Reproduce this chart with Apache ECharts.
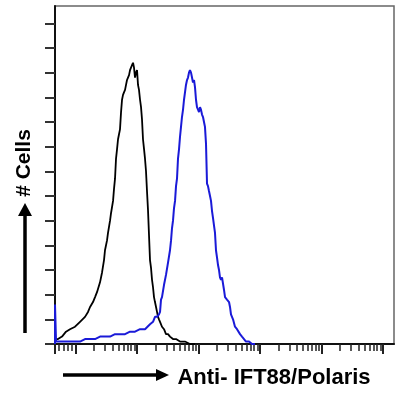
<!DOCTYPE html>
<html>
<head>
<meta charset="utf-8">
<script src="https://cdn.jsdelivr.net/npm/echarts@6/dist/echarts.min.js"></script>
<style>html,body{margin:0;padding:0;background:#fff}#c{width:400px;height:398px}</style>
</head>
<body>
<div id="c"></div>
<script>
// x: display position in decades of fluorescence (biexponential-like axis), y: cell count
const isotypeData = [[-0.337,2],[-0.288,2],[-0.223,3],[-0.158,5],[-0.093,6],[-0.011,7],[0.070,9],[0.151,11],[0.200,13],[0.233,15],[0.281,17],[0.314,19],[0.346,21],[0.395,25],[0.428,29],[0.460,34],[0.476,38],[0.509,42],[0.525,45],[0.558,50],[0.574,53],[0.607,58],[0.623,63],[0.639,67],[0.655,75],[0.672,79],[0.688,83],[0.704,85],[0.720,87],[0.737,94],[0.753,99],[0.769,101],[0.785,102],[0.802,103],[0.818,105],[0.834,107],[0.850,108],[0.867,109],[0.883,111],[0.899,112],[0.915,113],[0.932,114],[0.948,112],[0.964,108],[0.980,110],[0.997,111],[1.013,105],[1.029,103],[1.046,99],[1.062,96],[1.078,91],[1.094,83],[1.111,79],[1.127,75],[1.143,70],[1.159,62],[1.176,54],[1.192,44],[1.208,34],[1.224,31],[1.241,26],[1.257,23],[1.273,19],[1.289,17],[1.306,15],[1.322,13],[1.338,11],[1.354,10],[1.371,9],[1.403,7],[1.436,6],[1.468,4],[1.501,4],[1.533,3],[1.582,2],[1.631,2],[1.696,1],[1.776,1],[1.858,0],[1.939,0]];
const antibodyData = [[-0.337,0],[-0.337,16],[-0.320,1],[-0.288,1],[-0.223,1],[-0.158,1],[-0.093,1],[-0.011,1],[0.070,1],[0.151,2],[0.233,2],[0.314,2],[0.395,3],[0.476,3],[0.558,3],[0.639,4],[0.720,4],[0.802,4],[0.883,5],[0.964,5],[1.046,6],[1.127,6],[1.208,8],[1.257,9],[1.289,11],[1.322,11],[1.354,12],[1.371,13],[1.387,18],[1.403,19],[1.436,24],[1.468,28],[1.501,33],[1.533,38],[1.550,42],[1.566,47],[1.582,50],[1.598,55],[1.615,58],[1.631,64],[1.647,67],[1.663,75],[1.680,79],[1.696,84],[1.712,88],[1.728,92],[1.745,95],[1.761,99],[1.777,102],[1.793,105],[1.810,107],[1.826,108],[1.842,110],[1.858,111],[1.875,110],[1.891,108],[1.907,106],[1.924,107],[1.940,104],[1.956,99],[1.972,96],[1.989,95],[2.005,94],[2.021,96],[2.037,95],[2.054,93],[2.070,92],[2.086,90],[2.102,88],[2.119,81],[2.135,65],[2.151,64],[2.167,62],[2.184,60],[2.200,58],[2.216,54],[2.233,51],[2.249,48],[2.265,45],[2.281,38],[2.298,35],[2.314,32],[2.330,30],[2.346,27],[2.363,26],[2.379,27],[2.395,27],[2.411,22],[2.428,19],[2.460,18],[2.493,17],[2.509,15],[2.525,12],[2.558,10],[2.590,7],[2.623,6],[2.639,6],[2.672,4],[2.704,3],[2.737,2],[2.769,1],[2.818,1],[2.867,0],[2.916,0]];

const xMin = -0.337, xMax = 5.176;
const yMin = 0, yMax = 137;
const xMajorTicks = [-0.337, 0, 1, 2, 3, 4, 5];
const xLinearMinorTicks = [-0.269, -0.202, -0.135, -0.067];
const decades = [0, 1, 2, 3, 4];
const logMinorOffsets = [0.301, 0.477, 0.602, 0.699, 0.778, 0.845, 0.903, 0.954];
const yTicks = [0, 10, 20, 30, 40, 50, 60, 70, 80, 90, 100, 110, 120, 130];

const xMinorTicks = xLinearMinorTicks.slice();
decades.forEach(d => logMinorOffsets.forEach(o => xMinorTicks.push(+(d + o).toFixed(3))));

const chart = echarts.init(document.getElementById('c'), null, {renderer: 'canvas'});
chart.setOption({
  animation: false,
  backgroundColor: '#fff',
  grid: {left: 55, right: 6, top: 6, bottom: 54, containLabel: false, outerBoundsMode: 'none',
         show: true, borderColor: '#666', borderWidth: 1.5, backgroundColor: 'transparent'},
  xAxis: [
    {type: 'value', min: xMin, max: xMax, position: 'bottom',
     axisLine: {show: true, onZero: false, lineStyle: {color: '#111', width: 2}},
     axisTick: {show: true, customValues: xMajorTicks, length: 10, lineStyle: {color: '#222', width: 2}},
     axisLabel: {show: false}, splitLine: {show: false}},
    {type: 'value', min: xMin, max: xMax, position: 'bottom',
     axisLine: {show: false},
     axisTick: {show: true, customValues: xMinorTicks, length: 7, lineStyle: {color: '#222', width: 1.5}},
     axisLabel: {show: false}, splitLine: {show: false}}
  ],
  yAxis: {type: 'value', min: yMin, max: yMax,
     axisLine: {show: true, onZero: false, lineStyle: {color: '#111', width: 2}},
     axisTick: {show: true, customValues: yTicks, length: 10, lineStyle: {color: '#333', width: 2}},
     axisLabel: {show: false}, splitLine: {show: false}},
  series: [
    {type: 'line', name: 'Isotype', xAxisIndex: 0, data: isotypeData, showSymbol: false, symbol: 'none',
     lineStyle: {color: '#000', width: 1.8}, z: 3},
    {type: 'line', name: 'Anti-IFT88', xAxisIndex: 0, data: antibodyData, showSymbol: false, symbol: 'none',
     lineStyle: {color: '#1a1ad8', width: 2}, z: 4}
  ],
  graphic: [
    {type: 'line', shape: {x1: 25, y1: 333, x2: 25, y2: 213}, style: {stroke: '#000', lineWidth: 3.5}},
    {type: 'polygon', shape: {points: [[25, 203], [18, 216], [32, 216]]}, style: {fill: '#000'}},
    {type: 'text', x: 24, y: 163, rotation: Math.PI / 2,
     style: {text: '# Cells', font: 'bold 21px "Liberation Sans", Arial, sans-serif', fill: '#000', align: 'center', verticalAlign: 'middle'}},
    {type: 'line', shape: {x1: 63, y1: 375, x2: 158, y2: 375}, style: {stroke: '#000', lineWidth: 3.5}},
    {type: 'polygon', shape: {points: [[169, 375], [156, 369], [156, 381]]}, style: {fill: '#000'}},
    {type: 'text', x: 274, y: 378,
     style: {text: 'Anti- IFT88/Polaris', font: 'bold 22px "Liberation Sans", Arial, sans-serif', fill: '#000', align: 'center', verticalAlign: 'middle'}}
  ]
});
</script>
</body>
</html>
